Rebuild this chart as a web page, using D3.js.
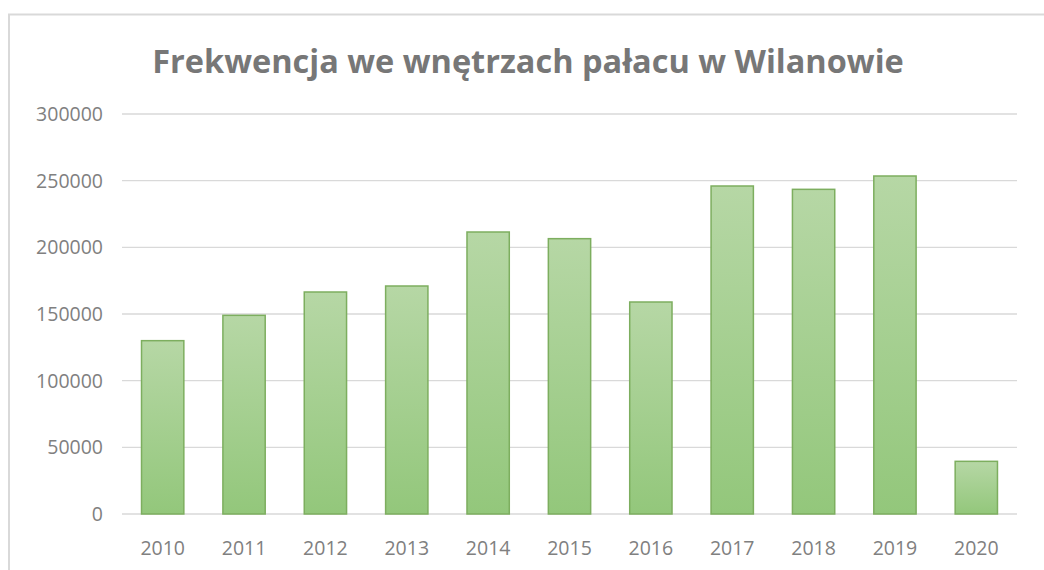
<!DOCTYPE html>
<html>
<head>
<meta charset="utf-8">
<script src="https://cdn.jsdelivr.net/npm/d3@7"></script>
<style>
  body { margin: 0; background: #fff; }
  text { font-family: "Open Sans", "Liberation Sans", sans-serif; }
</style>
</head>
<body>
<div id="chart"></div>
<script>
// data
const years = ["2010", "2011", "2012", "2013", "2014", "2015", "2016", "2017", "2018", "2019", "2020"];
const visitors = [130000, 149000, 166500, 171000, 211500, 206500, 159000, 246000, 243500, 253500, 39500];
const yTicks = [0, 50000, 100000, 150000, 200000, 250000, 300000];
const title = "Frekwencja we wnętrzach pałacu w Wilanowie";

const width = 1044, height = 570;
const margin = {top: 114, right: 27, bottom: 56, left: 122};

const svg = d3.select("#chart").append("svg")
    .attr("width", width)
    .attr("height", height);

// chart frame (only top and left edges are visible in the crop)
svg.append("path")
    .attr("d", `M9,${height} V14.5 H${width}`)
    .attr("fill", "none")
    .attr("stroke", "#d9d9d9")
    .attr("stroke-width", 2);

// gradient for bars
const grad = svg.append("defs").append("linearGradient")
    .attr("id", "barFill")
    .attr("x1", 0).attr("y1", 0).attr("x2", 0).attr("y2", 1);
grad.append("stop").attr("offset", "0%").attr("stop-color", "#b6d7a5");
grad.append("stop").attr("offset", "100%").attr("stop-color", "#93c77b");

const x = d3.scaleBand()
    .domain(years)
    .range([margin.left, width - margin.right])
    .paddingInner(0.48)
    .paddingOuter(0.24);

const y = d3.scaleLinear()
    .domain([0, 300000])
    .range([height - margin.bottom, margin.top]);

// gridlines
svg.append("g")
    .selectAll("line")
    .data(yTicks)
    .enter().append("line")
    .attr("x1", margin.left)
    .attr("x2", width - margin.right)
    .attr("y1", d => y(d))
    .attr("y2", d => y(d))
    .attr("stroke", "#d9d9d9")
    .attr("stroke-width", 1.3);

// y tick labels
svg.append("g")
    .selectAll("text")
    .data(yTicks)
    .enter().append("text")
    .attr("x", 103)
    .attr("y", d => y(d))
    .attr("dy", "0.36em")
    .attr("text-anchor", "end")
    .attr("font-size", 19.5)
    .attr("fill", "#808080")
    .text(d => d);

// bars
svg.append("g")
    .selectAll("rect")
    .data(visitors)
    .enter().append("rect")
    .attr("x", (d, i) => x(years[i]))
    .attr("y", d => y(d))
    .attr("width", x.bandwidth())
    .attr("height", d => y(0) - y(d))
    .attr("fill", "url(#barFill)")
    .attr("stroke", "#7dae5f")
    .attr("stroke-width", 1.5);

// x labels
svg.append("g")
    .selectAll("text")
    .data(years)
    .enter().append("text")
    .attr("x", d => x(d) + x.bandwidth() / 2)
    .attr("y", 555)
    .attr("text-anchor", "middle")
    .attr("font-size", 19.5)
    .attr("fill", "#808080")
    .text(d => d);

// title
svg.append("text")
    .attr("x", 528)
    .attr("y", 73)
    .attr("text-anchor", "middle")
    .attr("font-size", 32.5)
    .attr("font-weight", "bold")
    .attr("fill", "#777777")
    .text(title);
</script>
</body>
</html>
